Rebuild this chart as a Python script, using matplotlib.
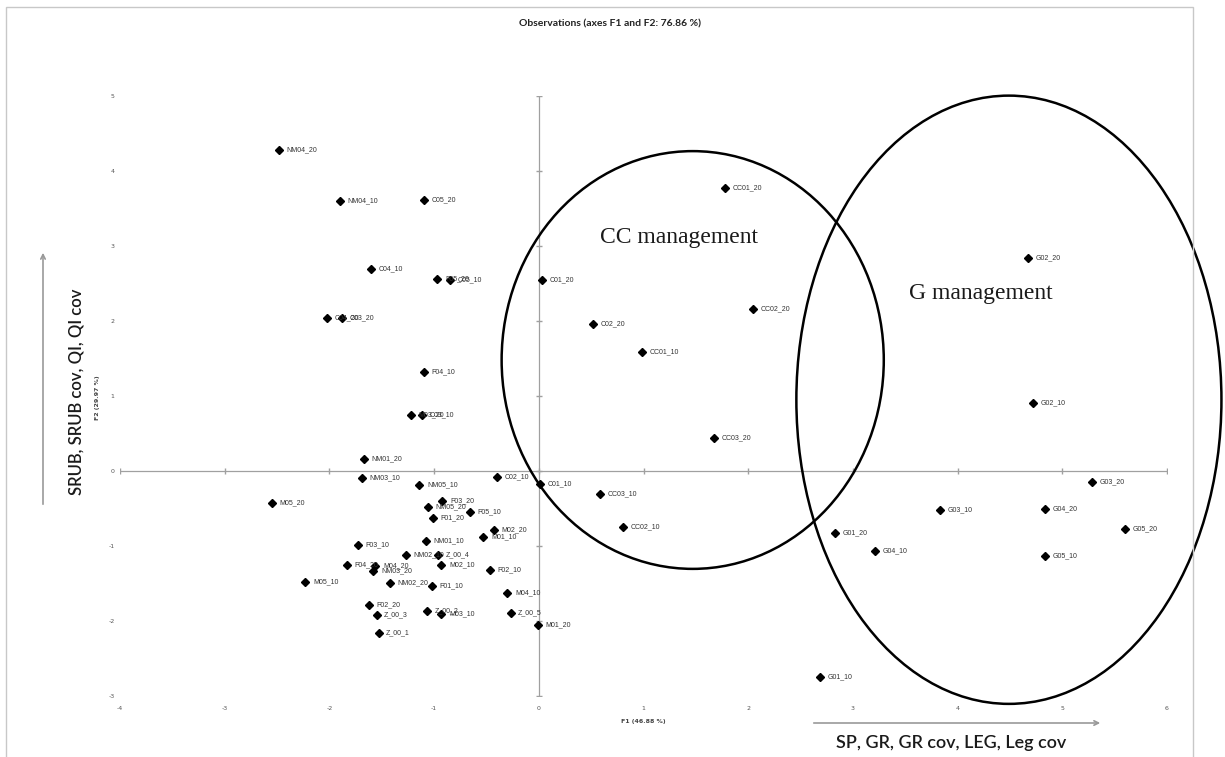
"""
PCA observations plot (F1 vs F2) with management groupings.
"""
import matplotlib
matplotlib.use('Agg')
import matplotlib.pyplot as plt
from matplotlib.patches import Ellipse, Rectangle, FancyArrowPatch

plt.rcParams['axes.unicode_minus'] = False

labels = ['NM04_20', 'NM04_10', 'C05_20', 'C04_10', 'F05_20', 'C05_10', 'C04_20', 'C03_20',
          'F04_10', 'M03_20', 'C03_10', 'NM01_20', 'NM03_10', 'NM05_10', 'C02_10', 'C01_10',
          'M05_20', 'F03_20', 'NM05_20', 'F05_10', 'F01_20', 'M02_20', 'M01_10', 'F03_10',
          'NM01_10', 'NM02_10', 'Z_00_4', 'F04_20', 'M04_20', 'NM03_20', 'M02_10', 'F02_10',
          'M05_10', 'NM02_20', 'F01_10', 'M04_10', 'F02_20', 'Z_00_3', 'Z_00_2', 'M03_10',
          'Z_00_5', 'Z_00_1', 'M01_20', 'CC01_20', 'C01_20', 'CC02_20', 'C02_20', 'CC01_10',
          'CC03_20', 'CC03_10', 'CC02_10', 'G02_20', 'G02_10', 'G03_20', 'G03_10', 'G04_20',
          'G05_20', 'G01_20', 'G04_10', 'G05_10', 'G01_10']
f1 = [-2.48, -1.90, -1.10, -1.60, -0.97, -0.85, -2.02, -1.88,
      -1.10, -1.22, -1.12, -1.67, -1.69, -1.14, -0.40, 0.01,
      -2.55, -0.92, -1.06, -0.66, -1.01, -0.43, -0.53, -1.73,
      -1.08, -1.27, -0.96, -1.83, -1.56, -1.58, -0.93, -0.47,
      -2.23, -1.42, -1.02, -0.30, -1.62, -1.55, -1.07, -0.93,
      -0.27, -1.53, -0.01, 1.78, 0.03, 2.05, 0.52, 0.99,
      1.67, 0.58, 0.80, 4.67, 4.72, 5.28, 3.83, 4.83,
      5.60, 2.83, 3.21, 4.83, 2.69]
f2 = [4.28, 3.60, 3.61, 2.69, 2.56, 2.55, 2.04, 2.04,
      1.32, 0.75, 0.75, 0.16, -0.09, -0.19, -0.08, -0.17,
      -0.43, -0.40, -0.48, -0.55, -0.63, -0.78, -0.88, -0.98,
      -0.93, -1.12, -1.12, -1.25, -1.26, -1.33, -1.25, -1.32,
      -1.48, -1.49, -1.53, -1.63, -1.79, -1.92, -1.87, -1.91,
      -1.89, -2.16, -2.05, 3.77, 2.55, 2.16, 1.96, 1.59,
      0.44, -0.31, -0.75, 2.84, 0.91, -0.15, -0.52, -0.51,
      -0.77, -0.83, -1.07, -1.13, -2.75]

x_ticks = list(range(-4, 7))
y_ticks = list(range(-3, 6))

W, H = 1225, 757
fig = plt.figure(figsize=(W / 100, H / 100), dpi=100)
ax = fig.add_axes([120 / W, 1 - 696 / H, (1167 - 120) / W, (696 - 96) / H])
ax.set_xlim(x_ticks[0], x_ticks[-1])
ax.set_ylim(y_ticks[0], y_ticks[-1])
for s in ax.spines.values():
    s.set_visible(False)

# Excel style axes crossing at zero, labels stay on the outer edge
ax.axhline(0, color='#a0a0a0', lw=0.9, zorder=1)
ax.axvline(0, color='#a0a0a0', lw=0.9, zorder=1)
ax.plot(x_ticks, [0] * len(x_ticks), ls='none', marker='|', ms=5, color='#a0a0a0', zorder=1)
ax.plot([0] * len(y_ticks), y_ticks, ls='none', marker='_', ms=5, color='#a0a0a0', zorder=1)

ax.set_xticks(x_ticks)
ax.set_yticks(y_ticks)
ax.tick_params(length=0, labelsize=4.5, labelcolor='#555555')
ax.tick_params(axis='x', pad=7)
ax.tick_params(axis='y', pad=4)

ax.plot(f1, f2, ls='none', marker='D', ms=4.5, color='black', zorder=3)
for lab, x, y in zip(labels, f1, f2):
    ax.annotate(lab, (x, y), xytext=(5.5, 0), textcoords='offset points',
                ha='left', va='center', fontsize=5, color='#333333',
                family='Liberation Sans')

# management groupings
ax.add_patch(Ellipse((1.47, 1.48), 3.65, 5.57, fill=False, ec='black', lw=1.8,
                     clip_on=False, zorder=4))
ax.add_patch(Ellipse((4.49, 0.95), 4.06, 8.11, fill=False, ec='black', lw=1.8,
                     clip_on=False, zorder=4))
ax.text(1.34, 3.11, 'CC management', fontsize=17, family='Liberation Serif',
        ha='center', va='center', color='#1a1a1a')
ax.text(4.22, 2.37, 'G management', fontsize=17, family='Liberation Serif',
        ha='center', va='center', color='#1a1a1a')

# chart frame, title and axis titles
fig.patches.append(Rectangle((6 / W, -0.01), (1193 - 6) / W, 1.01 - 7 / H, fill=False,
                             ec='#c8c8c8', lw=1, transform=fig.transFigure))
fig.text(610 / W, 1 - 24 / H, 'Observations (axes F1 and F2: 76.86 %)', ha='center',
         va='center', fontsize=7.5, fontweight='bold', family='Lato', color='#222222')
fig.text(643 / W, 1 - 722 / H, 'F1 (46.88 %)', ha='center', va='center', fontsize=4.5,
         fontweight='bold', color='#444444')
fig.text(97 / W, 1 - 398 / H, 'F2 (29.97 %)', ha='center', va='center', fontsize=4.5,
         fontweight='bold', color='#444444', rotation=90)

# variable direction arrows
fig.patches.append(FancyArrowPatch((43 / W, 1 - 507 / H), (43 / W, 1 - 250 / H),
                                   transform=fig.transFigure, arrowstyle='->',
                                   mutation_scale=8, color='#999999', lw=1.2))
fig.patches.append(FancyArrowPatch((811 / W, 1 - 723 / H), (1103 / W, 1 - 723 / H),
                                   transform=fig.transFigure, arrowstyle='->',
                                   mutation_scale=8, color='#999999', lw=1.2))
fig.text(77 / W, 1 - 392 / H, 'SRUB, SRUB cov, QI, QI cov', rotation=90, ha='center',
         va='center', fontsize=12, fontweight='semibold', family='Lato', color='#1a1a1a')
fig.text(951 / W, 1 - 743 / H, 'SP, GR, GR cov, LEG, Leg cov', ha='center', va='center',
         fontsize=13, fontweight='semibold', family='Lato', color='#1a1a1a')

fig.savefig('out.png', dpi=100)
